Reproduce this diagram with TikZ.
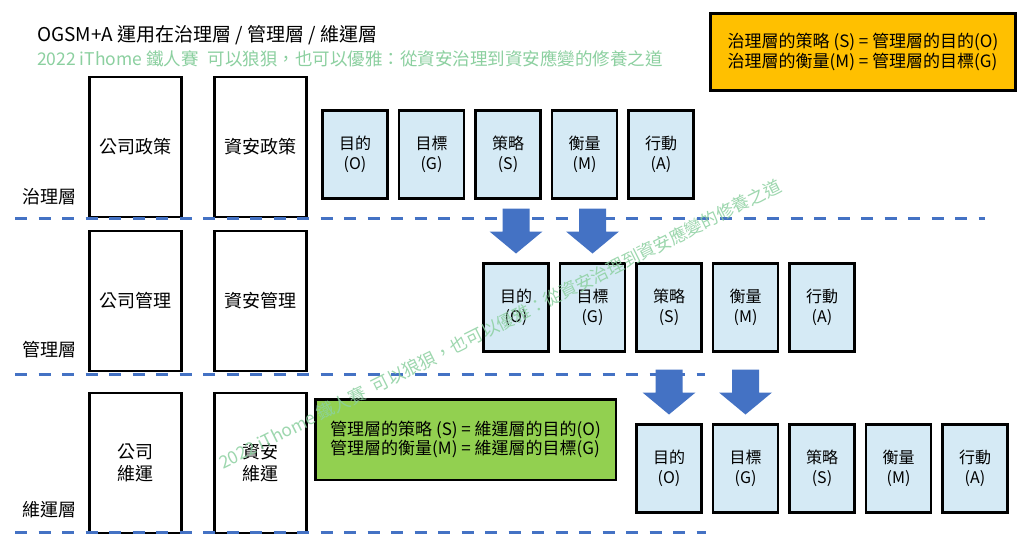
\documentclass[tikz,border=0pt]{standalone}
\usepackage{fontspec}
\setmainfont{Noto Sans CJK TC}
\usepackage{tikz}
\usetikzlibrary{positioning}
\definecolor{lineblue}{HTML}{4472C4}
\definecolor{itemblue}{HTML}{D5EAF5}
\definecolor{noteorange}{HTML}{FFC000}
\definecolor{notegreen}{HTML}{92D050}
\definecolor{markgreen}{RGB}{140,208,160}
\tikzset{
    layer/.style={draw, line width=2.5pt, fill=white, minimum width=92pt, minimum height=140pt, align=center, font=\fontsize{18}{22}\selectfont, inner sep=0pt, outer sep=0pt},
    item/.style={draw, line width=2.5pt, fill=itemblue, minimum width=65pt, minimum height=88pt, align=center, font=\fontsize{16}{20.5}\selectfont, inner sep=0pt, outer sep=0pt},
    note/.style={draw, line width=2.5pt, align=left, anchor=north west, font=\fontsize{17}{19.5}\selectfont, inner sep=0pt, outer sep=0pt},
    tier/.style={font=\fontsize{18}{22}\selectfont, inner sep=0pt},
    sep/.style={lineblue, line width=3pt, dash pattern=on 12pt off 11.5pt},
    blockarrow/.style={fill=lineblue}
}
% block arrow whose tip sits just above node #1
\newcommand\downblock[1]{%
  \fill[blockarrow] ([yshift=10pt]#1.north) -- ++(-26.5,-22) -- ++(13,0) -- ++(0,-23)
    -- ++(27,0) -- ++(0,23) -- ++(13,0) -- cycle;}

\begin{document}
\begin{tikzpicture}[x=1pt, y=-1pt]
\fill[white] (0,0) rectangle (1024,554);
\useasboundingbox (0,0) rectangle (1024,554);

% headings
\node[anchor=west, inner sep=0pt, font=\fontsize{19}{22}\selectfont] (title) at (37,35) {OGSM+A 運用在治理層 / 管理層 / 維運層};
\node[anchor=west, inner sep=0pt, text=markgreen, font=\fontsize{17.5}{20}\selectfont] (subtitle) at (37,59) {2022 iThome 鐵人賽\hspace{0.5em}可以狼狽，也可以優雅：從資安治理到資安應變的修養之道};

% layers
\node[layer] (corp1) at (135.5,147) {公司政策};
\node[layer, right=33pt of corp1] (sec1) {資安政策};
\node[layer, below=14pt of corp1] (corp2) {公司管理};
\node[layer, right=33pt of corp2] (sec2) {資安管理};
\node[layer, below=22pt of corp2] (corp3) {公司\\維運};
\node[layer, right=33pt of corp3] (sec3) {資安\\維運};

\node[tier] (gov) at (49,197) {治理層};
\node[tier] (mgmt) at (49,350) {管理層};
\node[tier] (ops) at (49,510) {維運層};

% OGSM+A rows
\foreach \r/\x/\y in {1/355/154.5, 2/516/307.5, 3/669/468.5} {
  \node[item] (o\r) at (\x,\y) {目的\\(O)};
  \node[item, right=11.5pt of o\r] (g\r) {目標\\(G)};
  \node[item, right=11.5pt of g\r] (s\r) {策略\\(S)};
  \node[item, right=11.5pt of s\r] (m\r) {衡量\\(M)};
  \node[item, right=11.5pt of m\r] (a\r) {行動\\(A)};
}

% notes
\node[note, fill=noteorange, minimum width=305pt, minimum height=77pt] (govnote) at (710.5,13.5) {治理層的策略 (S) = 管理層的目的(O)\\治理層的衡量(M) = 管理層的目標(G)};
\node[note, fill=notegreen, minimum width=300.5pt, minimum height=80.5pt] (mgmtnote) at (315.25,399.25) {管理層的策略 (S) = 維運層的目的(O)\\管理層的衡量(M) = 維運層的目標(G)};

% separators
\draw[sep] (15,218) -- (985,218);
\draw[sep] (15,374) -- (705,374);
\draw[sep] (15,532) -- (706,532);

\foreach \t in {o2,g2,o3,g3} {\downblock{\t}}

% watermark
\node[rotate=26.5, text=markgreen, opacity=.85, inner sep=0pt, font=\fontsize{17.5}{20}\selectfont] (mark) at (500,324) {2022 iThome 鐵人賽\hspace{0.5em}可以狼狽，也可以優雅：從資安治理到資安應變的修養之道};
\end{tikzpicture}
\end{document}
